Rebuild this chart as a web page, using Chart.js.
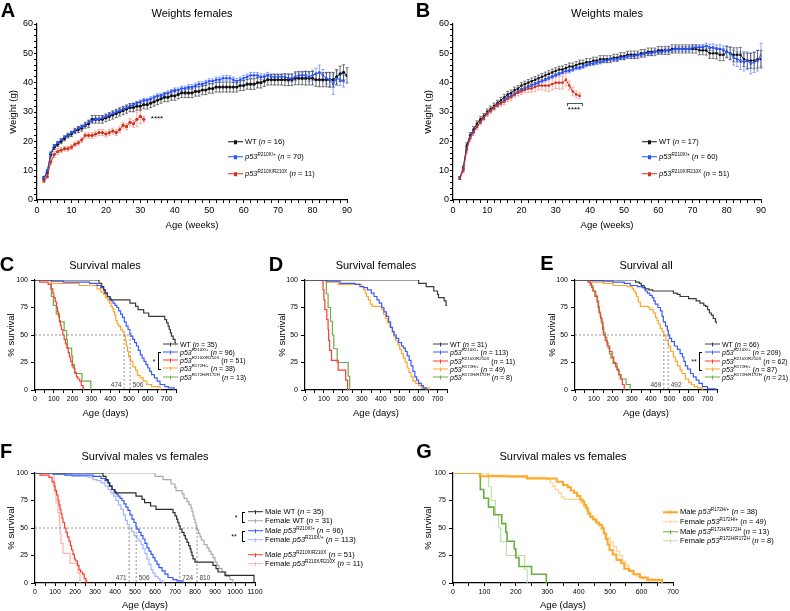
<!DOCTYPE html>
<html>
<head>
<meta charset="utf-8">
<script src="https://cdn.jsdelivr.net/npm/chart.js@4.4.0/dist/chart.umd.min.js"></script>
<style>
  body { margin: 0; background: #fff; font-family: "Liberation Sans", Arial, sans-serif; }
  #fig { position: relative; width: 790px; height: 611px; overflow: hidden; }
  canvas { position: absolute; }
  .txt { position: absolute; white-space: nowrap; color: #000; line-height: 1; transform: translate(-50%, -50%); }
  .title { font-size: 11px; }
  .letter { font-size: 20px; font-weight: bold; }
  .row { position: absolute; display: flex; align-items: center; transform: translateY(-50%); white-space: nowrap; line-height: 1; color: #000; }
  .sw { display: inline-block; width: 15px; height: 0; position: relative; margin-right: 2px; }
  .sw b { position: absolute; }
  sup { font-size: 62%; vertical-align: super; line-height: 0; }
  .brk { position: absolute; border: 1px solid #000; border-right: none; }
</style>
</head>
<body>
<div id="fig"></div>
<script>
// ---- weight data (weeks 2..90) ----
const weeks = [2,3,4,5,6,7,8,9,10,11,12,13,14,15,16,17,18,19,20,21,22,23,24,25,26,27,28,29,30,31,
  32,33,34,35,36,37,38,39,40,41,42,43,44,45,46,47,48,49,50,51,52,53,54,55,56,57,58,59,60,61,
  62,63,64,65,66,67,68,69,70,71,72,73,74,75,76,77,78,79,80,81,82,83,84,85,86,87,88,89,90];

const wtFemale = [7.5,9.5,15.5,18,19,20,21,22,22.5,23.5, 24,24.5,25.5,26,27.5,27.5,27.5,27.5,28,28.5,
  29,29.5,30,30.5,31,31.5,31.5,32,32,32.5, 32.5,33,33.5,34,34.5,35,35,35.5,35.5,36,
  36.5,36.5,36.5,36.5,37,37,37.5,37.5,38,38, 38.5,38.5,38.5,38.5,38.5,38.5,38.5,39,39,39.5,
  39.5,39.5,40,40,40.5,41,41,41,41,41, 41,41,41,41.5,41.5,41.5,41.5,41.5,41.5,41, 41,41,41,41,41,42,43,43.5,42.5];
const wtFemaleErr = [0.5,0.6,0.8,0.8,0.8,0.8,0.8,0.8,0.9,0.9, 1,1,1,1.2,1.3,1.3,1.3,1.3,1.3,1.3,
  1.4,1.4,1.4,1.4,1.4,1.4,1.4,1.4,1.4,1.4, 1.5,1.5,1.5,1.5,1.5,1.5,1.5,1.5,1.5,1.5,
  1.6,1.6,1.6,1.6,1.6,1.6,1.6,1.6,1.6,1.6, 1.7,1.7,1.7,1.7,1.7,1.7,1.7,1.7,1.7,1.7,
  1.8,1.8,1.8,1.8,1.8,1.8,1.8,1.8,1.8,1.8, 2,2,2,2.2,2.2,2.2,2.3,2.3,2.3,2.3, 2.4,2.4,2.4,2.5,2.5,2.5,2.6,2.6,2.6];
const hetFemale = [7.5,10,16,18.5,19.5,20.5,21.5,22,23,23.5, 24.5,25,25.5,26.5,27,27.5,27.5,28,28.5,29,
  29.5,30,30.5,31,31.5,32,32.5,33,33.5,34, 34,34.5,35,35.5,35.5,36,36.5,37,37.5,37.5,
  38,38,38.5,38.5,39,39.5,39.5,40,40.5,40.5, 41,41,41.5,41.5,41.5,41,40.5,41,41.5,42,
  42.5,42.5,42.5,42,42,42.5,42,42,42,42, 42,41.5,41.5,42,42.5,42.5,42.5,42,42.5,43, 43.5,42.5,41.5,41,39.5,41.5,41,40.5];
const hetFemaleErr = [0.4,0.4,0.4,0.4,0.4,0.4,0.4,0.4,0.4,0.4, 0.5,0.5,0.5,0.5,0.5,0.5,0.5,0.5,0.5,0.5,
  0.6,0.6,0.6,0.6,0.6,0.6,0.6,0.6,0.6,0.6, 0.7,0.7,0.7,0.7,0.7,0.7,0.7,0.7,0.7,0.7,
  0.8,0.8,0.8,0.8,0.8,0.8,0.8,0.8,0.8,0.8, 0.9,0.9,0.9,0.9,0.9,0.9,0.9,0.9,0.9,0.9,
  1,1,1,1,1,1,1,1,1,1, 1.1,1.2,1.2,1.3,1.3,1.4,1.5,1.6,1.8,2, 2.5,2,2,2.5,3.5,2.5,2,2];
const homFemale = [6.5,8,13,15.5,16.5,17,17.5,17.5,18,19, 19.5,20.5,22,22,22,22.5,23,23,22.5,23,
  23.5,23,24,25.5,25,26.5,26,27.5,28.5,27.5];
const homFemaleErr = [0.5,0.6,1,1,1,0.8,0.8,0.8,0.8,0.8, 0.8,0.9,0.9,0.9,1,1,1,1,1,1,
  1,1,1,1,1,1.2,1.2,2.5,2.5,1];

const wtMale = [7.5,11,18.5,22,24,26,27.5,28.5,30,31, 32,33,34,35,36,36.5,37.5,38,39,39.5,
  40,40.5,41,41.5,42,42.5,43,43.5,44,44.5, 44.5,45,45.5,45.5,46,46.5,46.5,47,47,47.5,
  47.5,48,48,48,48,48.5,48.5,49,49,49.5, 49.5,49.5,49.5,50,50,50.5,50.5,50.5,51,51,
  51,51,51.5,51.5,51.5,51.5,51.5,51.5,51.5,51.5, 51,51,51,50,50,50,49.5,49.5,50.5,50, 49.5,49.5,49.5,48,47.5,47.5,47.5,48,48];
const wtMaleErr = [0.5,0.7,1,1,1,1,1,1,1,1, 1,1,1,1,1,1,1,1,1,1, 1.1,1.1,1.1,1.1,1.1,1.1,1.1,1.1,1.1,1.1,
  1.2,1.2,1.2,1.2,1.2,1.2,1.2,1.2,1.2,1.2, 1.2,1.2,1.2,1.2,1.2,1.2,1.2,1.2,1.2,1.2,
  1.3,1.3,1.3,1.3,1.3,1.3,1.3,1.3,1.3,1.3, 1.4,1.4,1.4,1.4,1.4,1.4,1.4,1.4,1.4,1.4,
  1.5,1.5,1.6,1.7,1.8,1.9,2,2,2,2.2, 2.4,2.4,2.5,2.5,2.6,2.6,2.8,3,3];
const hetMale = [7.5,10.5,17.5,21.5,23.5,25,26.5,28,29.5,30.5, 31.5,32.5,33,34,35,35.5,36,37,37.5,38,
  38.5,39,39.5,40,40.5,41,41.5,42,42.5,43, 43.5,44,44,44.5,45,45,45.5,46,46.5,46.5,
  47,47,47.5,47.5,48,48,48,48.5,48.5,49, 49,49,49.5,49.5,50,50,50,50.5,50.5,50.5,
  51,51,51,51.5,51.5,51.5,51.5,51.5,52,52, 52,52,52.5,52,52,51.5,51.5,51,50.5,50, 48.5,48,47.5,47,47.5,46.5,47,47.5,49.5];
const hetMaleErr = [0.4,0.4,0.4,0.4,0.4,0.4,0.4,0.4,0.4,0.4, 0.5,0.5,0.5,0.5,0.5,0.5,0.5,0.5,0.5,0.5,
  0.5,0.5,0.5,0.5,0.5,0.5,0.5,0.5,0.5,0.5, 0.6,0.6,0.6,0.6,0.6,0.6,0.6,0.6,0.6,0.6,
  0.6,0.6,0.6,0.6,0.6,0.6,0.6,0.6,0.6,0.6, 0.7,0.7,0.7,0.7,0.7,0.7,0.7,0.7,0.7,0.7,
  0.8,0.8,0.8,0.8,0.8,0.8,0.8,0.8,0.8,0.8, 0.9,1,1,1.1,1.2,1.3,1.4,1.5,1.8,2, 2.5,2.5,3,3,3,3.5,3.5,3.5,4];
const homMale = [7.5,10,17,21,23,25,26.5,28,29.5,30.5, 31.5,32.5,33,33.5,34.5,35,36,36.5,37,37.5,
  38,38,38.5,39,39,39,39,39.5,40,40, 40,41,39,37,36,35.5];
const homMaleErr = [0.5,0.7,1,1,1,1,1,1,1,1, 1,1,1,1,1,1,1,1,1,1,
  1.3,1.3,1.5,1.5,1.5,1.8,2,2,2,2.2, 2.2,2.2,1.5,1.5,1.2,1];

// ---- survival data: [age in days, % survival] ----
const maleWT = [[0,100],[340,97],[355,94],[365,91],[372,88],[385,85],[400,82],[505,79],[535,76],[548,73],[578,70],[605,67],
  [690,64],[700,61],[708,58],[714,55],[720,52],[726,49],[735,46],[745,43],[752,40],[760,37],[768,34],[775,31],[780,28],
  [785,25],[790,22],[800,19],[890,16],[905,13],[915,10],[950,7],[1095,0]];
const femaleWT = [[0,100],[600,97],[640,94],[680,90],[700,87],[705,84],[735,81],[745,77],[760,74],[770,71],[780,68],[785,65],
  [790,61],[795,58],[800,55],[805,52],[810,48],[818,45],[825,42],[832,39],[845,35],[860,32],[870,29],[880,26],[890,23],
  [900,19],[910,16],[920,13],[935,10],[955,6],[975,3],[990,0]];
const maleR210Het = [[0,100],[90,99],[150,98],[290,97],[330,95],[350,93],[365,91],[375,88],[385,85],[395,83],[405,81],[415,79],
  [425,77],[435,75],[445,72],[455,69],[465,66],[475,62],[485,58],[495,55],[505,51],[510,49],[520,46],[530,43],[540,40],
  [550,36],[560,32],[570,29],[580,26],[590,23],[600,20],[610,17],[620,14],[635,11],[650,8],[665,5],[690,3],[710,2],[740,0]];
const femaleR210Het = [[0,100],[115,99],[185,97],[265,96],[290,94],[310,93],[330,91],[350,88],[365,85],[380,82],[392,79],[405,75],
  [417,71],[430,67],[442,62],[452,57],[462,53],[471,50],[482,47],[495,43],[510,40],[520,38],[530,35],[540,31],[550,27],
  [560,22],[570,17],[580,12],[590,9],[600,6],[615,4],[625,2],[640,0]];
const maleR210Hom = [[0,100],[25,98],[70,96],[85,92],[95,88],[100,84],[108,80],[115,75],[120,71],[125,67],[130,63],[135,59],
  [140,55],[148,50],[155,46],[162,42],[170,38],[177,34],[183,30],[190,26],[197,22],[203,20],[212,16],[220,12],[228,10],
  [238,8],[246,4],[255,2],[258,0]];
const femaleR210Hom = [[0,100],[95,91],[100,82],[105,73],[115,64],[122,55],[125,45],[130,36],[140,27],[175,18],[215,9],[225,0]];
const maleR172Het = [[0,100],[85,97],[235,95],[330,92],[350,89],[365,87],[375,84],[385,82],[395,79],[405,76],[412,74],[418,71],
  [424,68],[430,63],[437,60],[445,58],[455,55],[465,53],[474,50],[480,45],[486,40],[492,35],[498,30],[508,26],[520,21],
  [535,18],[545,13],[560,11],[575,8],[595,5],[620,3],[665,0]];
const femaleR172Het = [[0,100],[110,98],[175,96],[300,94],[310,91],[318,88],[325,85],[335,82],[345,78],[355,76],[405,73],[415,69],
  [425,65],[435,61],[448,57],[460,53],[468,49],[478,45],[490,41],[500,37],[510,33],[520,29],[530,25],[540,20],[550,16],
  [560,12],[570,8],[585,6],[600,4],[615,2],[655,0]];
const maleR172Hom = [[0,100],[87,85],[98,77],[113,69],[130,62],[155,54],[168,46],[172,38],[195,31],[200,23],[210,15],[250,8],[297,0]];
const femaleR172Hom = [[0,100],[113,87.5],[122,75],[135,62.5],[145,50],[152,37.5],[170,25],[228,12.5],[236,0]];

const allWT = [[0,100],[320,98],[340,97],[350,95],[365,93],[372,92],[390,91],[410,90],[520,88],[540,87],[555,85],[600,83],
  [640,81],[660,79],[680,77],[690,76],[700,73],[710,70],[720,68],[730,65],[742,62],[750,60],[760,58]];
const allR210Het = [[0,100],[80,99.5],[150,99],[200,98],[260,97],[292,95],[330,94],[355,93],[370,90],[382,88],[395,86],[408,84],
  [416,81],[424,78],[438,75],[451,72],[460,67],[467,62],[478,58],[488,54],[493,50],[500,47],[510,44],[525,40],[541,37],
  [555,33],[567,30],[575,26],[583,22],[595,19],[610,15],[625,12],[640,9],[655,6],[673,3],[700,1],[742,0]];
const allR210Hom = [[0,100],[69,98],[80,97],[88,93],[95,90],[105,85],[117,80],[122,75],[127,70],[135,65],[143,60],[146,55],
  [150,50],[160,45],[170,40],[183,35],[196,30],[205,25],[215,21],[223,18],[232,14],[239,10],[250,5],[260,0]];
const allR172Het = [[0,100],[90,98],[150,97],[201,95],[276,94],[302,92],[310,90],[318,88],[325,85],[334,80],[345,76],[387,75],
  [395,73],[414,70],[425,66],[433,63],[440,60],[450,56],[460,53],[469,50],[480,45],[493,40],[505,35],[520,30],[530,26],
  [541,22],[555,18],[565,15],[583,10],[600,7],[615,5],[630,3],[647,2],[673,0]];
const allR172Hom = [[0,100],[80,95],[95,90],[110,86],[117,81],[125,76],[128,71],[133,67],[138,62],[148,57],[152,52],[160,48],
  [168,43],[175,38],[182,33],[190,29],[201,24],[222,19],[232,14],[244,10],[270,5],[292,0]];

// medians (days) and legend counts
const mediansC = [474, 506];
const mediansE = [469, 492];
const mediansF = [471, 506, 724, 810];
const nA = [16, 70, 11];
const nB = [17, 60, 51];
const nC = [35, 96, 51, 38, 13];
const nD = [31, 113, 11, 49, 8];
const nE = [66, 209, 62, 87, 21];
const nF = [35, 31, 96, 113, 51, 11];
const nG = [38, 49, 13, 8];

const het210 = '<i>p53</i><sup>R210X/+</sup>';
const hom210 = '<i>p53</i><sup>R210X/R210X</sup>';
const het172 = '<i>p53</i><sup>R172H/+</sup>';
const hom172 = '<i>p53</i><sup>R172H/R172H</sup>';
const groupsCDE = ['WT', het210, hom210, het172, hom172];
const groupsF = ['Male WT', 'Female WT', 'Male ' + het210, 'Female ' + het210, 'Male ' + hom210, 'Female ' + hom210];
const groupsG = ['Male ' + het172, 'Female ' + het172, 'Male ' + hom172, 'Female ' + hom172];

const col = { wt: '#3a3a3a', het: '#3b5bff', hom: '#ff3b2f', r172: '#ffa62b', r172hom: '#6bae47' };

// ---- helpers ----
const FAM = '"Liberation Sans", Arial, sans-serif';
Chart.defaults.font.family = FAM;
Chart.defaults.color = '#000';
const fig = document.getElementById('fig');

const errorBars = {
  id: 'errorBars',
  beforeDatasetsDraw(chart) {
    const { ctx, scales: { y } } = chart;
    chart.data.datasets.forEach((ds, i) => {
      if (!ds.errors) return;
      const meta = chart.getDatasetMeta(i);
      ctx.save();
      ctx.strokeStyle = ds.errColor;
      ctx.lineWidth = 0.7;
      meta.data.forEach((pt, j) => {
        const v = ds.data[j].y, e = ds.errors[j];
        const yt = y.getPixelForValue(v + e), yb = y.getPixelForValue(v - e);
        ctx.beginPath();
        ctx.moveTo(pt.x, yt); ctx.lineTo(pt.x, yb);
        ctx.moveTo(pt.x - 1.5, yt); ctx.lineTo(pt.x + 1.5, yt);
        ctx.moveTo(pt.x - 1.5, yb); ctx.lineTo(pt.x + 1.5, yb);
        ctx.stroke();
      });
      ctx.restore();
    });
  }
};

function medianPlugin(values, sides) {
  return {
    id: 'medians',
    afterDatasetsDraw(chart) {
      const { ctx, scales: { x, y } } = chart;
      const y50 = y.getPixelForValue(50), y0 = y.getPixelForValue(0);
      ctx.save();
      ctx.strokeStyle = '#777';
      ctx.lineWidth = 0.8;
      ctx.setLineDash([2, 2]);
      ctx.beginPath();
      ctx.moveTo(x.getPixelForValue(0), y50);
      ctx.lineTo(x.getPixelForValue(Math.max(...values)), y50);
      values.forEach(m => {
        const px = x.getPixelForValue(m);
        ctx.moveTo(px, y50); ctx.lineTo(px, y0);
      });
      ctx.stroke();
      ctx.setLineDash([]);
      ctx.fillStyle = '#444';
      ctx.font = '6.5px ' + FAM;
      ctx.textBaseline = 'middle';
      values.forEach((m, i) => {
        const px = x.getPixelForValue(m);
        ctx.textAlign = sides[i] < 0 ? 'right' : 'left';
        ctx.fillText(String(m), px + sides[i] * 2.5, y0 - 5);
      });
      ctx.restore();
    }
  };
}

function makePanel(g, datasets, plugins) {
  const cv = document.createElement('canvas');
  cv.width = g.cw; cv.height = g.ch;
  cv.style.left = g.cx + 'px'; cv.style.top = g.cy + 'px';
  fig.appendChild(cv);
  const lh = g.ttl * 1.2;
  return new Chart(cv, {
    type: 'line',
    data: { datasets },
    options: {
      responsive: false, animation: false, events: [],
      layout: { padding: { left: 0, top: g.t - g.cy, right: g.cx + g.cw - g.r, bottom: 0 } },
      plugins: { legend: { display: false }, tooltip: { enabled: false } },
      scales: {
        x: {
          type: 'linear', min: 0, max: g.xmax,
          afterFit: s => { s.height = g.cy + g.ch - g.b; },
          border: { color: '#000', width: 1.2 },
          grid: { drawOnChartArea: false, tickLength: 3, tickColor: '#000', tickWidth: 1 },
          ticks: { stepSize: g.xstep, autoSkip: false, maxRotation: 0, padding: 2, color: '#000',
            font: { size: g.tick }, callback: v => (v % g.xlab === 0 ? v : '') },
          title: { display: true, text: g.xTitle, color: '#000', font: { size: g.ttl, lineHeight: 1.2 },
            padding: { top: 0, bottom: g.cy + g.ch - g.xty - lh / 2 } }
        },
        y: {
          min: 0, max: g.ymax,
          afterFit: s => { s.width = g.l - g.cx; },
          border: { color: '#000', width: 1.2 },
          grid: { drawOnChartArea: false, tickLength: g.ytl, tickColor: '#000', tickWidth: 1 },
          ticks: { stepSize: g.ystep, autoSkip: false, padding: g.ypad, color: '#000',
            font: { size: g.tick }, callback: v => (v % g.ylab === 0 ? v : '') },
          title: { display: true, text: g.yTitle, color: '#000', font: { size: g.ttl, lineHeight: 1.2 },
            padding: { top: g.ytx - g.cx - lh / 2, bottom: 0 } }
        }
      }
    },
    plugins: plugins || []
  });
}

function weightSet(vals, errs, color, errColor, style) {
  return {
    data: vals.map((v, i) => ({ x: weeks[i], y: v })),
    errors: errs, errColor,
    borderColor: color, backgroundColor: color, borderWidth: 1,
    pointStyle: style, pointRadius: 1.6, pointBorderWidth: 0, pointBackgroundColor: color
  };
}
function survSet(pts, color, width) {
  return {
    data: pts.map(p => ({ x: p[0], y: p[1] })),
    stepped: true, borderColor: color, borderWidth: width || 1.2, pointRadius: 0, fill: false
  };
}

function text(x, y, html, cls, style) {
  const d = document.createElement('div');
  d.className = 'txt ' + (cls || '');
  d.style.left = x + 'px'; d.style.top = y + 'px';
  if (style) d.style.cssText += style;
  d.innerHTML = html;
  fig.appendChild(d);
}
function legend(x, ys, names, ns, colors, size, marker, widths) {
  names.forEach((nm, i) => {
    const r = document.createElement('div');
    r.className = 'row';
    r.style.cssText = `left:${x}px;top:${ys[i]}px;font-size:${size}px`;
    const w = widths ? widths[i] : 1.2;
    const mk = marker === 'square'
      ? `<b style="left:5.5px;top:-2px;width:3.5px;height:3.5px;background:${colors[i]}"></b>`
      : `<b style="left:7px;top:-2.5px;width:1px;height:4px;background:${colors[i]}"></b>`;
    r.innerHTML = `<span class="sw" style="border-top:${w}px solid ${colors[i]}">${mk}</span><span>${nm} (<i>n</i> = ${ns[i]})</span>`;
    fig.appendChild(r);
  });
}
function bracket(x, y1, y2) {
  const d = document.createElement('div');
  d.className = 'brk';
  d.style.cssText += `left:${x}px;top:${y1}px;width:2px;height:${y2 - y1}px`;
  fig.appendChild(d);
}

// ---- Panel A: weights females ----
const gW = { cy: 4, ch: 236, t: 24, b: 200, xty: 225, xmax: 90, xstep: 2, xlab: 10, ymax: 60, ystep: 2, ylab: 10,
  tick: 9, ttl: 9.5, ytl: 3, ypad: 1, xTitle: 'Age (weeks)', yTitle: 'Weight (g)' };
makePanel(Object.assign({}, gW, { cx: 0, cw: 395, l: 37, r: 347, ytx: 13 }), [
  weightSet(homFemale, homFemaleErr, '#d0301c', '#f08a80', 'circle'),
  weightSet(hetFemale, hetFemaleErr, '#2450ff', '#5a7cff', 'rect'),
  weightSet(wtFemale, wtFemaleErr, '#111', '#333', 'circle')
], [errorBars]);

// ---- Panel B: weights males ----
makePanel(Object.assign({}, gW, { cx: 395, cw: 395, l: 453, r: 761, ytx: 428 }), [
  weightSet(homMale, homMaleErr, '#d0301c', '#f08a80', 'rect'),
  weightSet(hetMale, hetMaleErr, '#2450ff', '#5a7cff', 'rect'),
  weightSet(wtMale, wtMaleErr, '#111', '#444', 'rect')
], [errorBars]);

// ---- Panels C, D, E: survival ----
const gS = { cy: 268, ch: 152, t: 280, b: 390, xty: 413, xmax: 750, xstep: 50, xlab: 100, ymax: 100, ystep: 25, ylab: 25,
  tick: 7, ttl: 9.5, ytl: 4, ypad: 3, xTitle: 'Age (days)', yTitle: '% survival' };
makePanel(Object.assign({}, gS, { cx: 0, cw: 262, l: 35, r: 176, ytx: 11 }), [
  survSet(maleWT, col.wt), survSet(maleR210Het, col.het), survSet(maleR210Hom, col.hom),
  survSet(maleR172Het, col.r172), survSet(maleR172Hom, col.r172hom)
], [medianPlugin(mediansC, [-1, 1])]);
makePanel(Object.assign({}, gS, { cx: 262, cw: 262, l: 305, r: 447, ytx: 282 }), [
  survSet(femaleWT, col.wt), survSet(femaleR210Het, col.het), survSet(femaleR210Hom, col.hom),
  survSet(femaleR172Het, col.r172), survSet(femaleR172Hom, col.r172hom)
]);
makePanel(Object.assign({}, gS, { cx: 524, cw: 266, l: 575, r: 717, ytx: 552 }), [
  survSet(allWT, col.wt), survSet(allR210Het, col.het), survSet(allR210Hom, col.hom),
  survSet(allR172Het, col.r172), survSet(allR172Hom, col.r172hom)
], [medianPlugin(mediansE, [-1, 1])]);

// ---- Panels F, G: males vs females ----
const gMF = { cy: 461, ch: 150, t: 473, b: 583, xty: 605, xstep: 50, xlab: 100, ymax: 100, ystep: 25, ylab: 25,
  tick: 7, ttl: 9.5, ytl: 4, ypad: 3, xTitle: 'Age (days)', yTitle: '% survival' };
const colF = ['#2b2b2b', '#a9a9a9', '#2f55ff', '#a2b6ff', '#ff3b2f', '#ffb0a8'];
makePanel(Object.assign({}, gMF, { cx: 0, cw: 400, l: 35, r: 255, ytx: 11, xmax: 1100 }), [
  survSet(maleWT, colF[0]), survSet(femaleWT, colF[1]), survSet(maleR210Het, colF[2]),
  survSet(femaleR210Het, colF[3]), survSet(maleR210Hom, colF[4]), survSet(femaleR210Hom, colF[5])
], [medianPlugin(mediansF, [-1, 1, 1, 1])]);
const colG = ['#ffa726', '#ffd28f', '#6aae3e', '#bfe0a5'];
const widthG = [2, 1.2, 1.6, 1.2];
makePanel(Object.assign({}, gMF, { cx: 400, cw: 390, l: 453, r: 673, ytx: 428, xmax: 700 }), [
  survSet(maleR172Het, colG[0], widthG[0]), survSet(femaleR172Het, colG[1], widthG[1]),
  survSet(maleR172Hom, colG[2], widthG[2]), survSet(femaleR172Hom, colG[3], widthG[3])
]);

// ---- titles and panel letters ----
text(192, 13, 'Weights females', 'title');
text(607, 13, 'Weights males', 'title');
text(105, 265, 'Survival males', 'title');
text(376, 265, 'Survival females', 'title');
text(646, 265, 'Survival all', 'title');
text(145, 456, 'Survival males vs females', 'title');
text(563, 456, 'Survival males vs females', 'title');
text(8, 10, 'A', 'letter');
text(423, 10, 'B', 'letter');
text(7, 264, 'C', 'letter');
text(276, 264, 'D', 'letter');
text(547, 263, 'E', 'letter');
text(6, 451, 'F', 'letter');
text(424, 451, 'G', 'letter');

// ---- legends ----
legend(228, [142, 157, 174], ['WT', het210, hom210], nA, ['#111', '#2450ff', '#d0301c'], 7.5, 'square');
legend(642, [142, 157, 174], ['WT', het210, hom210], nB, ['#111', '#2450ff', '#d0301c'], 7.5, 'square');
const colCDE = [col.wt, col.het, col.hom, col.r172, col.r172hom];
legend(163, [344, 352, 360, 368, 377], groupsCDE, nC, colCDE, 7);
legend(433, [344, 352, 361, 369, 377], groupsCDE, nD, colCDE, 7);
legend(705, [344, 352, 361, 369, 377], groupsCDE, nE, colCDE, 7);
legend(248, [512, 521, 531, 540, 555, 564], groupsF, nF, colF, 7.6);
legend(663, [512, 522, 532, 541], groupsG, nG, colG, 7.5, null, widthG);

// ---- significance marks ----
text(157, 119, '****', '', 'font-size:8px');
const bb = document.createElement('div');
bb.style.cssText = 'position:absolute;left:567px;top:103px;width:14px;height:2px;border:1px solid #555;border-bottom:none';
fig.appendChild(bb);
text(574, 110, '****', '', 'font-size:8px');
bracket(158, 352, 368); text(154, 361, '*', '', 'font-size:7px');
bracket(699, 352, 369); text(694, 361, '**', '', 'font-size:7px');
bracket(242, 512, 521); text(236, 517, '*', '', 'font-size:7px');
bracket(242, 531, 540); text(234, 536, '**', '', 'font-size:7px');
</script>
</body>
</html>
